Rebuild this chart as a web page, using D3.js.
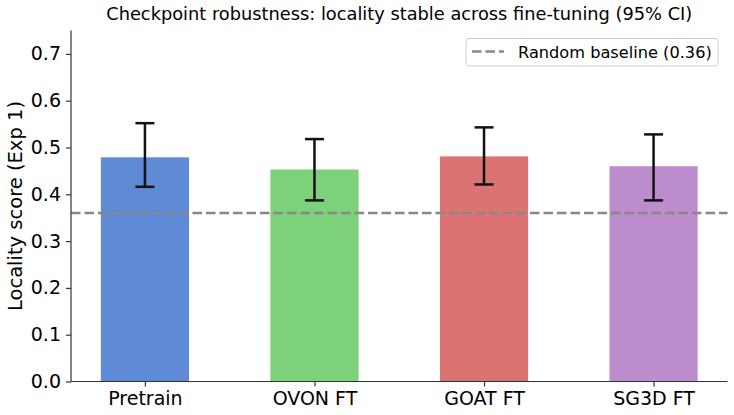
<!DOCTYPE html>
<html>
<head>
<meta charset="utf-8">
<script src="https://cdn.jsdelivr.net/npm/d3@7"></script>
<style>
  body { margin: 0; background: #fff; }
  text { font-family: "DejaVu Sans", sans-serif; fill: #000; }
</style>
</head>
<body>
<script>
// data
let checkpoints = ["Pretrain", "OVON FT", "GOAT FT", "SG3D FT"]
let scores = [0.479, 0.453, 0.481, 0.460]
let ciLow = [0.416, 0.387, 0.421, 0.387]
let ciHigh = [0.552, 0.518, 0.543, 0.528]
let baseline = 0.36
let yTicks = [0.0, 0.1, 0.2, 0.3, 0.4, 0.5, 0.6, 0.7]
let barColors = ["#5f8ad6", "#7dd17b", "#da7372", "#bd8ccc"]

let w = 734
let h = 415
let m = {left: 71, right: 6.5, top: 30.5, bottom: 33.5}

let svg = d3.select("body").append("svg")
    .attr("width", w)
    .attr("height", h)

// bars sit at 0..3 with width ~0.52, matplotlib style margins
let barW = 0.52
let pad = 0.05 * (3 + barW)
let x = d3.scaleLinear()
    .domain([-barW / 2 - pad, 3 + barW / 2 + pad])
    .range([m.left, w - m.right])
let y = d3.scaleLinear()
    .domain([0, 0.75])
    .range([h - m.bottom, m.top])

let g = svg.append("g")

g.selectAll("rect.bar")
    .data(scores)
    .enter()
    .append("rect")
        .attr("class", "bar")
        .attr("x", (d, i) => x(i - barW / 2))
        .attr("width", (d, i) => x(i + barW / 2) - x(i - barW / 2))
        .attr("y", d => y(d))
        .attr("height", d => y(0) - y(d))
        .attr("fill", (d, i) => barColors[i])

// baseline
g.append("line")
    .attr("x1", m.left)
    .attr("x2", w - m.right)
    .attr("y1", y(baseline))
    .attr("y2", y(baseline))
    .attr("stroke", "#888")
    .attr("stroke-width", 2.5)
    .attr("stroke-dasharray", "9.5,4")

// error bars
let cap = 9.5
let err = g.selectAll("g.err")
    .data(scores)
    .enter()
    .append("g").attr("class", "err")
err.append("line")
    .attr("x1", (d, i) => x(i)).attr("x2", (d, i) => x(i))
    .attr("y1", (d, i) => y(ciLow[i])).attr("y2", (d, i) => y(ciHigh[i]))
err.append("line")
    .attr("x1", (d, i) => x(i) - cap).attr("x2", (d, i) => x(i) + cap)
    .attr("y1", (d, i) => y(ciLow[i])).attr("y2", (d, i) => y(ciLow[i]))
err.append("line")
    .attr("x1", (d, i) => x(i) - cap).attr("x2", (d, i) => x(i) + cap)
    .attr("y1", (d, i) => y(ciHigh[i])).attr("y2", (d, i) => y(ciHigh[i]))
err.selectAll("line")
    .attr("stroke", "#111")
    .attr("stroke-width", 2.5)

// axes
let yAxis = svg.append("g")
    .attr("transform", `translate(${m.left},0)`)
    .call(d3.axisLeft(y).tickValues(yTicks).tickFormat(d3.format(".1f")).tickSize(5).tickPadding(5))
let xAxis = svg.append("g")
    .attr("transform", `translate(0,${h - m.bottom})`)
    .call(d3.axisBottom(x).tickValues(d3.range(checkpoints.length)).tickFormat(i => checkpoints[i]).tickSize(5).tickPadding(5))
;[yAxis, xAxis].forEach(a => {
    a.select(".domain").attr("stroke", "#333").attr("stroke-width", 1.2)
    a.selectAll(".tick line").attr("stroke", "#333").attr("stroke-width", 1.2)
    a.selectAll(".tick text").style("font-size", "19px").attr("fill", "#000")
})
yAxis.select(".domain").attr("d", `M0,${y(0)}V${m.top}`)
xAxis.select(".domain").attr("d", `M${m.left},0H${w - m.right}`)

// y label
svg.append("text")
    .attr("transform", `translate(22,${(m.top + h - m.bottom) / 2}) rotate(-90)`)
    .attr("text-anchor", "middle")
    .style("font-size", "19.5px")
    .text("Locality score (Exp 1)")

// title
svg.append("text")
    .attr("x", (m.left + w - m.right) / 2)
    .attr("y", 20)
    .attr("text-anchor", "middle")
    .style("font-size", "17.8px")
    .text("Checkpoint robustness: locality stable across fine-tuning (95% CI)")

// legend
let lg = svg.append("g")
lg.append("rect")
    .attr("x", 466).attr("y", 38.5)
    .attr("width", 252).attr("height", 27.5)
    .attr("rx", 3)
    .attr("fill", "#fff").attr("fill-opacity", 0.8)
    .attr("stroke", "#ccc")
lg.append("line")
    .attr("x1", 472).attr("x2", 504)
    .attr("y1", 51.5).attr("y2", 51.5)
    .attr("stroke", "#888")
    .attr("stroke-width", 2.5)
    .attr("stroke-dasharray", "9.5,4")
lg.append("text")
    .attr("x", 518)
    .attr("y", 57.5)
    .style("font-size", "16.2px")
    .text(`Random baseline (${baseline.toFixed(2)})`)
</script>
</body>
</html>
